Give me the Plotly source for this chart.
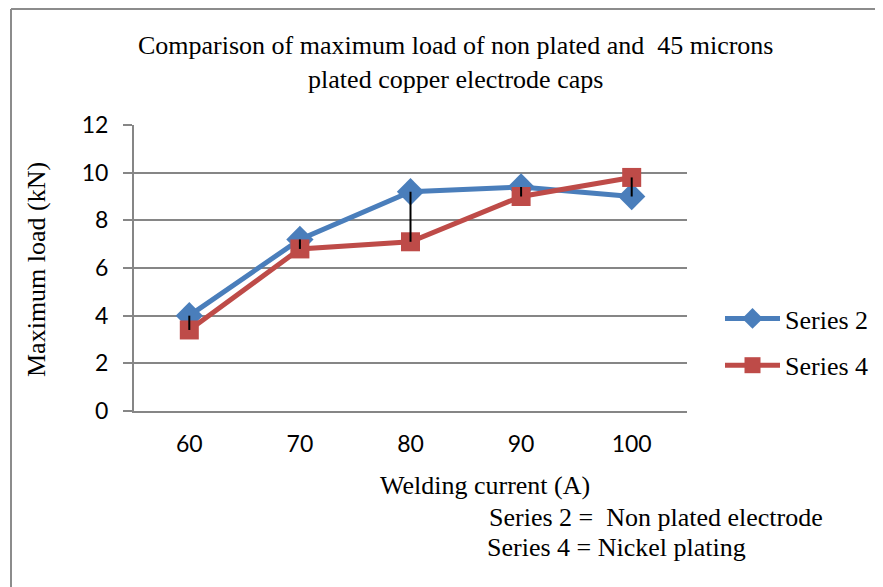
import plotly.graph_objects as go

categories = ["60", "70", "80", "90", "100"]
series2 = [4.0, 7.2, 9.2, 9.4, 9.0]
series4 = [3.4, 6.8, 7.1, 9.0, 9.8]
y_ticks = [0, 2, 4, 6, 8, 10, 12]

title_text = "Comparison of maximum load of non plated and  45 microns<br>plated copper electrode caps"
x_title = "Welding current (A)"
y_title = "Maximum load (kN)"
note1 = "Series 2 =  Non plated electrode"
note2 = "Series 4 = Nickel plating"

OFF = 8  # page body margin
W, H = 883, 587
pw, ph = 553, 286
L, T = 134 - OFF, 125 - OFF
R, B = W - L - pw, H - T - ph

def px_x(x):
    return (x - OFF - L) / pw

def px_y(y):
    return (T + ph - (y - OFF)) / ph

serif = "Liberation Serif, Times New Roman, serif"
sans = "Lato, Open Sans, sans-serif"
FS = 26

fig = go.Figure()
fig.add_trace(go.Scatter(
    x=categories, y=series2, name="Series 2", mode="lines+markers",
    line=dict(color="#4A7EBB", width=5),
    marker=dict(symbol="diamond", size=21, color="#4A7EBB"),
    legendgroup="a",
))
fig.add_trace(go.Scatter(
    x=categories, y=series4, name="Series 4", mode="lines+markers",
    line=dict(color="#BE4B48", width=5),
    marker=dict(symbol="square", size=19, color="#BE4B48"),
    legendgroup="b",
))
# high-low lines
hx, hy = [], []
for c, a, b in zip(categories, series2, series4):
    hx += [c, c, None]
    hy += [a, b, None]
fig.add_trace(go.Scatter(x=hx, y=hy, mode="lines", line=dict(color="black", width=2),
                         showlegend=False, hoverinfo="skip"))

fig.update_layout(
    width=W, height=H,
    margin=dict(l=L, r=R, t=T, b=B, autoexpand=False),
    paper_bgcolor="white", plot_bgcolor="white",
    showlegend=True,
    legend=dict(
        x=px_x(720), y=px_y(295), xanchor="left", yanchor="top",
        font=dict(family=serif, size=FS, color="black"),
        tracegroupgap=10, itemwidth=55, bgcolor="rgba(0,0,0,0)",
    ),
    xaxis=dict(
        type="category", range=[-0.5, 4.5],
        showline=True, linecolor="#868686", linewidth=2,
        showgrid=False, ticks="", ticklabelstandoff=11,
        tickfont=dict(family=sans, size=23, color="black"),
        zeroline=False,
    ),
    yaxis=dict(
        range=[0, 12], tickvals=y_ticks,
        showline=True, linecolor="#868686", linewidth=2,
        showgrid=True, gridcolor="#868686", gridwidth=1.5,
        ticks="outside", ticklen=9, tickcolor="#868686", tickwidth=2,
        ticklabelstandoff=10,
        tickfont=dict(family=sans, size=23, color="black"),
        zeroline=False,
    ),
    annotations=[
        dict(text=title_text, xref="paper", yref="paper", x=px_x(455), y=px_y(62),
             xanchor="center", yanchor="middle", showarrow=False,
             font=dict(family=serif, size=FS, color="black")),
        dict(text=x_title, xref="paper", yref="paper", x=px_x(485), y=px_y(485),
             xanchor="center", yanchor="middle", showarrow=False,
             font=dict(family=serif, size=FS, color="black")),
        dict(text=y_title, xref="paper", yref="paper", x=px_x(36), y=px_y(270),
             xanchor="center", yanchor="middle", showarrow=False, textangle=-90,
             font=dict(family=serif, size=FS, color="black")),
        dict(text=note1, xref="paper", yref="paper", x=px_x(487), y=px_y(517),
             xanchor="left", yanchor="middle", showarrow=False,
             font=dict(family=serif, size=FS, color="black")),
        dict(text=note2, xref="paper", yref="paper", x=px_x(485), y=px_y(547),
             xanchor="left", yanchor="middle", showarrow=False,
             font=dict(family=serif, size=FS, color="black")),
    ],
    shapes=[
        dict(type="line", xref="paper", yref="paper", x0=px_x(11), x1=px_x(11),
             y0=px_y(9), y1=px_y(620), line=dict(color="#8c8c8c", width=2)),
        dict(type="line", xref="paper", yref="paper", x0=px_x(11), x1=px_x(920),
             y0=px_y(9), y1=px_y(9), line=dict(color="#8c8c8c", width=2)),
    ],
)

fig.write_html("out.html")
